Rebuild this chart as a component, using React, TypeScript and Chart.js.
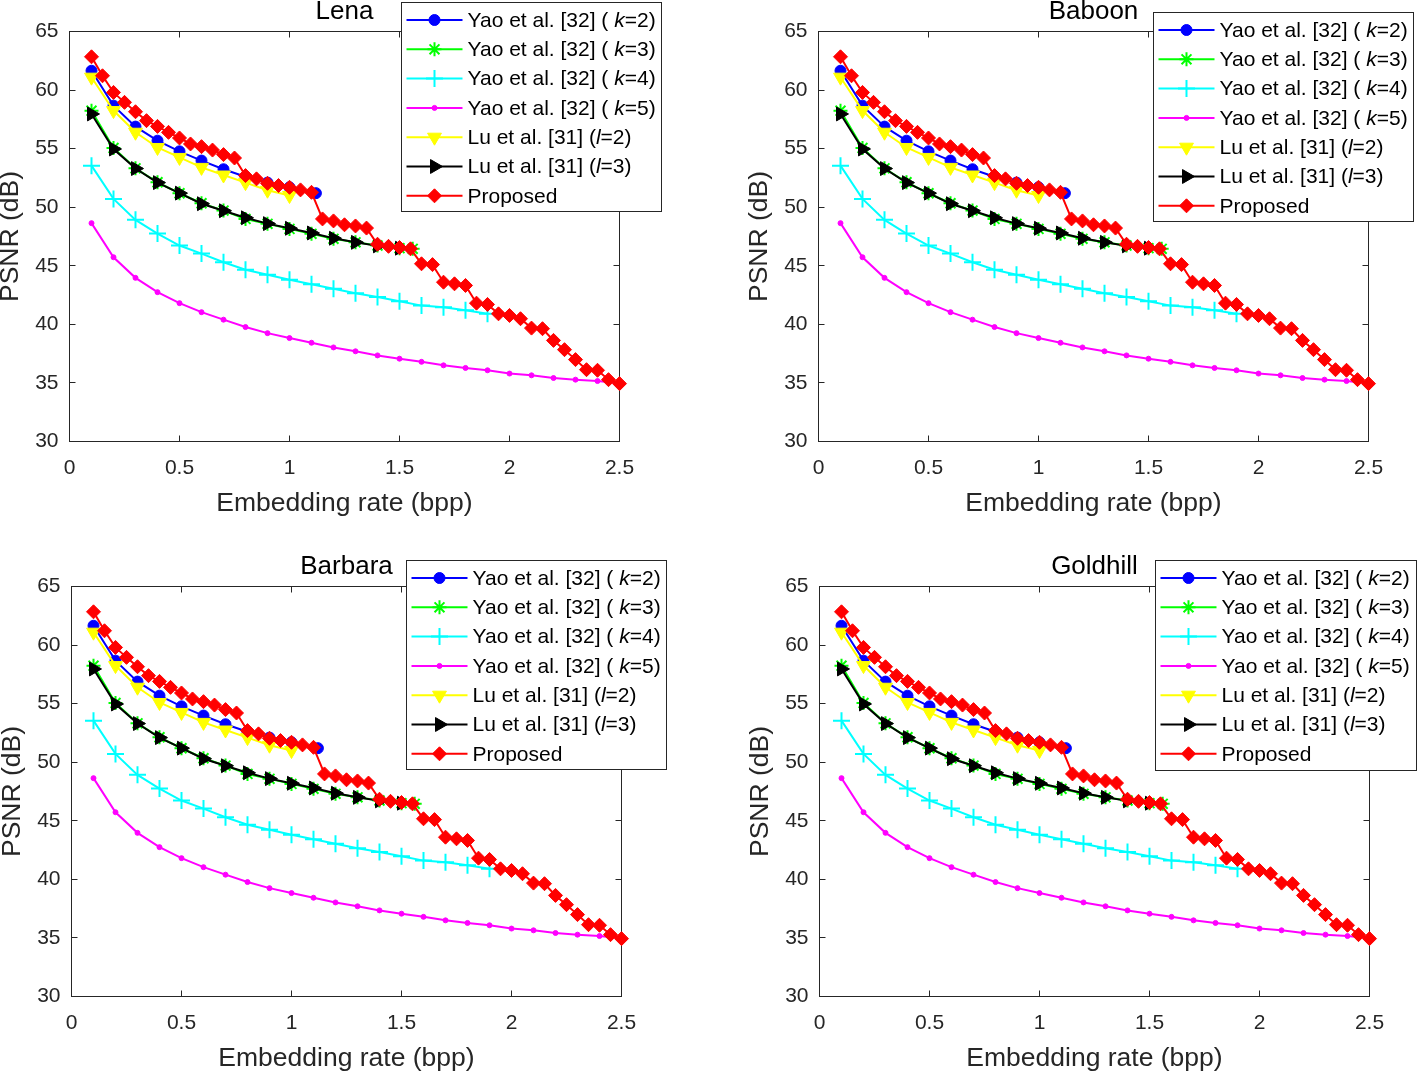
import React, { useEffect, useRef } from 'react';
import { Chart, registerables } from 'chart.js';

Chart.register(...registerables);

const FONT = '"Liberation Sans", Arial, Helvetica, sans-serif';
const AXIS_COLOR = '#262626';

// ---------------- data ----------------
const rateYaoK2 = [0.1, 0.2, 0.3, 0.4, 0.5, 0.6, 0.7, 0.8, 0.9, 1.0, 1.12];
const psnrYaoK2 = [61.65, 58.67, 56.88, 55.68, 54.77, 53.98, 53.24, 52.6, 52.1, 51.7, 51.2];

const rateYaoK3 = [0.1, 0.2, 0.3, 0.4, 0.5, 0.6, 0.7, 0.8, 0.9, 1.0, 1.1, 1.2, 1.3, 1.4, 1.5, 1.56];
const psnrYaoK3 = [58.24, 55.06, 53.32, 52.13, 51.19, 50.34, 49.71, 49.0, 48.58, 48.15, 47.73, 47.3, 47.0, 46.73, 46.5, 46.45];

const rateYaoK4 = [0.1, 0.2, 0.3, 0.4, 0.5, 0.6, 0.7, 0.8, 0.9, 1.0, 1.1, 1.2, 1.3, 1.4, 1.5, 1.6, 1.7, 1.8, 1.9];
const psnrYaoK4 = [53.55, 50.71, 48.92, 47.75, 46.73, 46.04, 45.3, 44.66, 44.23, 43.8, 43.43, 43.04, 42.65, 42.33, 41.98, 41.6, 41.47, 41.2, 40.9];

const rateYaoK5 = [0.1, 0.2, 0.3, 0.4, 0.5, 0.6, 0.7, 0.8, 0.9, 1.0, 1.1, 1.2, 1.3, 1.4, 1.5, 1.6, 1.7, 1.8, 1.9, 2.0, 2.1, 2.2, 2.3, 2.4, 2.5];
const psnrYaoK5 = [48.64, 45.73, 43.97, 42.75, 41.81, 41.04, 40.4, 39.77, 39.25, 38.83, 38.43, 38.03, 37.7, 37.35, 37.07, 36.8, 36.5, 36.28, 36.08, 35.8, 35.65, 35.42, 35.28, 35.16, 34.97];

const rateLuL2 = [0.1, 0.2, 0.3, 0.4, 0.5, 0.6, 0.7, 0.8, 0.9, 1.0];
const psnrLuL2 = [61.1, 58.25, 56.4, 55.1, 54.25, 53.4, 52.75, 52.1, 51.45, 51.0];

const rateLuL3 = [0.1, 0.2, 0.3, 0.4, 0.5, 0.6, 0.7, 0.8, 0.9, 1.0, 1.1, 1.2, 1.3, 1.4, 1.5];
const psnrLuL3 = [57.96, 54.97, 53.3, 52.1, 51.2, 50.3, 49.7, 49.1, 48.6, 48.2, 47.8, 47.35, 47.0, 46.7, 46.5];

const rateProposed = [0.1, 0.15, 0.2, 0.25, 0.3, 0.35, 0.4, 0.45, 0.5, 0.55, 0.6, 0.65, 0.7, 0.75, 0.8, 0.85, 0.9, 0.95, 1.0, 1.05, 1.1, 1.15, 1.2, 1.25, 1.3, 1.35, 1.4, 1.45, 1.5, 1.55, 1.6, 1.65, 1.7, 1.75, 1.8, 1.85, 1.9, 1.95, 2.0, 2.05, 2.1, 2.15, 2.2, 2.25, 2.3, 2.35, 2.4, 2.45, 2.5];
const psnrProposed = [62.84, 61.22, 59.8, 58.95, 58.15, 57.39, 56.9, 56.39, 55.91, 55.4, 55.17, 54.88, 54.49, 54.2, 52.7, 52.42, 52.04, 51.85, 51.7, 51.48, 51.27, 49.0, 48.83, 48.5, 48.4, 48.22, 46.84, 46.66, 46.56, 46.45, 45.17, 45.1, 43.6, 43.46, 43.32, 41.81, 41.7, 40.9, 40.76, 40.48, 39.68, 39.63, 38.63, 37.84, 36.99, 36.13, 36.08, 35.28, 34.94];

const xTickValues = [0, 0.5, 1, 1.5, 2, 2.5];
const xTickLabels = ['0', '0.5', '1', '1.5', '2', '2.5'];
const yTickValues = [30, 35, 40, 45, 50, 55, 60, 65];
const yTickLabels = ['30', '35', '40', '45', '50', '55', '60', '65'];
const panelTitles = ['Lena', 'Baboon', 'Barbara', 'Goldhill'];

// ---------------- series styling ----------------
type Seg = [string, boolean];
interface Series {
  label: Seg[];
  xs: number[];
  ys: number[];
  color: string;
  style: string;
  radius: number;
  rotation: number;
  markerLine: number;
  fill: boolean;
}

const SERIES: Series[] = [
  { label: [['Yao et al. [32] ( ', false], ['k', true], ['=2)', false]], xs: rateYaoK2, ys: psnrYaoK2, color: '#0000ff', style: 'circle', radius: 5.5, rotation: 0, markerLine: 1, fill: true },
  { label: [['Yao et al. [32] ( ', false], ['k', true], ['=3)', false]], xs: rateYaoK3, ys: psnrYaoK3, color: '#00ff00', style: 'star', radius: 7, rotation: 0, markerLine: 2, fill: false },
  { label: [['Yao et al. [32] ( ', false], ['k', true], ['=4)', false]], xs: rateYaoK4, ys: psnrYaoK4, color: '#00ffff', style: 'cross', radius: 8.5, rotation: 0, markerLine: 2, fill: false },
  { label: [['Yao et al. [32] ( ', false], ['k', true], ['=5)', false]], xs: rateYaoK5, ys: psnrYaoK5, color: '#ff00ff', style: 'circle', radius: 2.5, rotation: 0, markerLine: 1, fill: true },
  { label: [['Lu et al. [31] (', false], ['l', true], ['=2)', false]], xs: rateLuL2, ys: psnrLuL2, color: '#ffff00', style: 'triangle', radius: 8, rotation: 180, markerLine: 1, fill: true },
  { label: [['Lu et al. [31] (', false], ['l', true], ['=3)', false]], xs: rateLuL3, ys: psnrLuL3, color: '#000000', style: 'triangle', radius: 8, rotation: 90, markerLine: 1, fill: true },
  { label: [['Proposed', false]], xs: rateProposed, ys: psnrProposed, color: '#ff0000', style: 'rectRot', radius: 7, rotation: 0, markerLine: 1, fill: true },
];

// ---------------- layout (page coordinates) ----------------
interface PanelGeom { L: number; T: number; R: number; B: number; lx: number; ly: number; lw: number; lh: number; }
const GEOMS: PanelGeom[] = [
  { L: 69.5, T: 31.5, R: 619.5, B: 441.5, lx: 401.5, ly: 2.5, lw: 260, lh: 209 },
  { L: 818.5, T: 31.5, R: 1368.5, B: 441.5, lx: 1153.5, ly: 12.5, lw: 260, lh: 209 },
  { L: 71.5, T: 586.5, R: 621.5, B: 996.5, lx: 406.5, ly: 560.5, lw: 260, lh: 209 },
  { L: 819.5, T: 586.5, R: 1369.5, B: 996.5, lx: 1155.5, ly: 560.5, lw: 261, lh: 210 },
];

function drawMarker(ctx: CanvasRenderingContext2D, s: Series, x: number, y: number) {
  const r = s.radius;
  let rad = (s.rotation * Math.PI) / 180;
  ctx.save();
  ctx.fillStyle = s.color;
  ctx.strokeStyle = s.color;
  ctx.lineWidth = s.markerLine;
  ctx.beginPath();
  switch (s.style) {
    case 'circle':
      ctx.arc(x, y, r, 0, Math.PI * 2);
      ctx.fill();
      ctx.stroke();
      break;
    case 'triangle':
      ctx.moveTo(x + Math.sin(rad) * r, y - Math.cos(rad) * r);
      rad += (2 * Math.PI) / 3;
      ctx.lineTo(x + Math.sin(rad) * r, y - Math.cos(rad) * r);
      rad += (2 * Math.PI) / 3;
      ctx.lineTo(x + Math.sin(rad) * r, y - Math.cos(rad) * r);
      ctx.closePath();
      ctx.fill();
      ctx.stroke();
      break;
    case 'rectRot':
      ctx.moveTo(x - r, y);
      ctx.lineTo(x, y - r);
      ctx.lineTo(x + r, y);
      ctx.lineTo(x, y + r);
      ctx.closePath();
      ctx.fill();
      ctx.stroke();
      break;
    case 'cross':
      ctx.moveTo(x - r, y); ctx.lineTo(x + r, y);
      ctx.moveTo(x, y - r); ctx.lineTo(x, y + r);
      ctx.stroke();
      break;
    case 'star': {
      ctx.moveTo(x - r, y); ctx.lineTo(x + r, y);
      ctx.moveTo(x, y - r); ctx.lineTo(x, y + r);
      const d = r * Math.SQRT1_2;
      ctx.moveTo(x - d, y - d); ctx.lineTo(x + d, y + d);
      ctx.moveTo(x - d, y + d); ctx.lineTo(x + d, y - d);
      ctx.stroke();
      break;
    }
  }
  ctx.restore();
}

function Panel({ g, title }: { g: PanelGeom; title: string }) {
  const ref = useRef<HTMLCanvasElement>(null);
  const cl = Math.floor(g.L) - 72;
  const ct = Math.floor(g.T) - 40;
  const cw = Math.ceil(g.R) + 60 - cl;
  const ch = Math.ceil(g.B) + 75 - ct;
  const yw = g.L - cl;
  const tp = g.T - ct;
  const rp = cl + cw - g.R;
  const xh = ct + ch - g.B;

  useEffect(() => {
    if (!ref.current) return;
    const n = SERIES.length;
    const datasets = SERIES.map((s, i) => ({
      label: s.label.map((p) => p[0]).join(''),
      data: s.xs.map((x, j) => ({ x, y: s.ys[j] })),
      borderColor: s.color,
      backgroundColor: s.fill ? s.color : 'rgba(0,0,0,0)',
      borderWidth: 2,
      pointStyle: s.style,
      pointRadius: s.radius,
      pointRotation: s.rotation,
      pointBorderWidth: s.markerLine,
      pointBorderColor: s.color,
      pointBackgroundColor: s.fill ? s.color : 'rgba(0,0,0,0)',
      tension: 0,
      clip: false as any,
      order: n - i,
    }));

    const decor = {
      id: 'decor',
      beforeDatasetsDraw(chart: any) {
        const { ctx, chartArea: a, scales } = chart;
        ctx.save();
        ctx.strokeStyle = AXIS_COLOR;
        ctx.lineWidth = 1;
        const al = (v: number) => Math.round(v - 0.5) + 0.5;
        const L = al(a.left), R = al(a.right), T = al(a.top), B = al(a.bottom);
        ctx.strokeRect(L, T, R - L, B - T);
        const tl = 6;
        ctx.beginPath();
        for (const v of xTickValues) {
          const px = al(scales.x.getPixelForValue(v));
          ctx.moveTo(px, B); ctx.lineTo(px, B - tl);
          ctx.moveTo(px, T); ctx.lineTo(px, T + tl);
        }
        for (const v of yTickValues) {
          const py = al(scales.y.getPixelForValue(v));
          ctx.moveTo(L, py); ctx.lineTo(L + tl, py);
          ctx.moveTo(R, py); ctx.lineTo(R - tl, py);
        }
        ctx.stroke();
        ctx.restore();
      },
      afterDraw(chart: any) {
        const { ctx, chartArea: a } = chart;
        ctx.save();
        // panel title
        ctx.fillStyle = '#000000';
        ctx.font = `26px ${FONT}`;
        ctx.textAlign = 'center';
        ctx.textBaseline = 'alphabetic';
        ctx.fillText(title, (a.left + a.right) / 2, a.top - 13);

        // legend
        const bx = g.lx - cl;
        const by = g.ly - ct;
        ctx.fillStyle = '#ffffff';
        ctx.fillRect(bx, by, g.lw, g.lh);
        ctx.strokeStyle = AXIS_COLOR;
        ctx.lineWidth = 1;
        ctx.strokeRect(bx, by, g.lw, g.lh);
        const rowH = 29.3;
        SERIES.forEach((s, i) => {
          const ry = by + 17.5 + i * rowH;
          ctx.strokeStyle = s.color;
          ctx.lineWidth = 2;
          ctx.beginPath();
          ctx.moveTo(bx + 5, ry);
          ctx.lineTo(bx + 61, ry);
          ctx.stroke();
          drawMarker(ctx, s, bx + 33, ry);
          let tx = bx + 66;
          ctx.fillStyle = '#000000';
          ctx.textAlign = 'left';
          ctx.textBaseline = 'middle';
          for (const [txt, it] of s.label) {
            ctx.font = `${it ? 'italic ' : ''}21px ${FONT}`;
            ctx.fillText(txt, tx, ry + 1);
            tx += ctx.measureText(txt).width;
          }
        });
        ctx.restore();
      },
    };

    const chart = new Chart(ref.current, {
      type: 'line',
      data: { datasets: datasets as any },
      options: {
        responsive: false,
        maintainAspectRatio: false,
        devicePixelRatio: 1,
        animation: false,
        events: [],
        layout: { padding: { left: 0, top: tp, right: rp, bottom: 0 } },
        plugins: {
          legend: { display: false },
          title: { display: false },
          tooltip: { enabled: false },
        },
        scales: {
          x: {
            type: 'linear',
            min: 0,
            max: 2.5,
            afterBuildTicks: (s: any) => { s.ticks = xTickValues.map((v) => ({ value: v })); },
            afterFit: (s: any) => { s.height = xh; },
            ticks: {
              color: AXIS_COLOR, font: { family: FONT, size: 21 }, padding: 14, maxRotation: 0, autoSkip: false,
              callback: (_v: any, i: number) => xTickLabels[i],
            },
            grid: { display: false, drawTicks: false },
            border: { display: false },
            title: { display: true, text: 'Embedding rate (bpp)', color: AXIS_COLOR, font: { family: FONT, size: 26.5, lineHeight: 1 }, padding: { top: 0, bottom: 0.5 } },
          },
          y: {
            type: 'linear',
            min: 30,
            max: 65,
            afterBuildTicks: (s: any) => { s.ticks = yTickValues.map((v) => ({ value: v })); },
            afterFit: (s: any) => { s.width = yw; },
            ticks: {
              color: AXIS_COLOR, font: { family: FONT, size: 21 }, padding: 11, autoSkip: false,
              callback: (_v: any, i: number) => yTickLabels[i],
            },
            grid: { display: false, drawTicks: false },
            border: { display: false },
            title: { display: true, text: 'PSNR (dB)', color: AXIS_COLOR, font: { family: FONT, size: 26.5, lineHeight: 1 }, padding: { top: 0, bottom: 0 } },
          },
        },
      } as any,
      plugins: [decor],
    });
    return () => chart.destroy();
  }, []);

  return (
    <canvas
      ref={ref}
      width={cw}
      height={ch}
      style={{ position: 'absolute', left: cl, top: ct, width: cw, height: ch }}
    />
  );
}

export default function App() {
  return (
    <div style={{ position: 'fixed', left: 0, top: 0, width: 1418, height: 1073, background: '#ffffff', overflow: 'hidden' }}>
      {GEOMS.map((g, i) => (
        <Panel key={i} g={g} title={panelTitles[i]} />
      ))}
    </div>
  );
}
